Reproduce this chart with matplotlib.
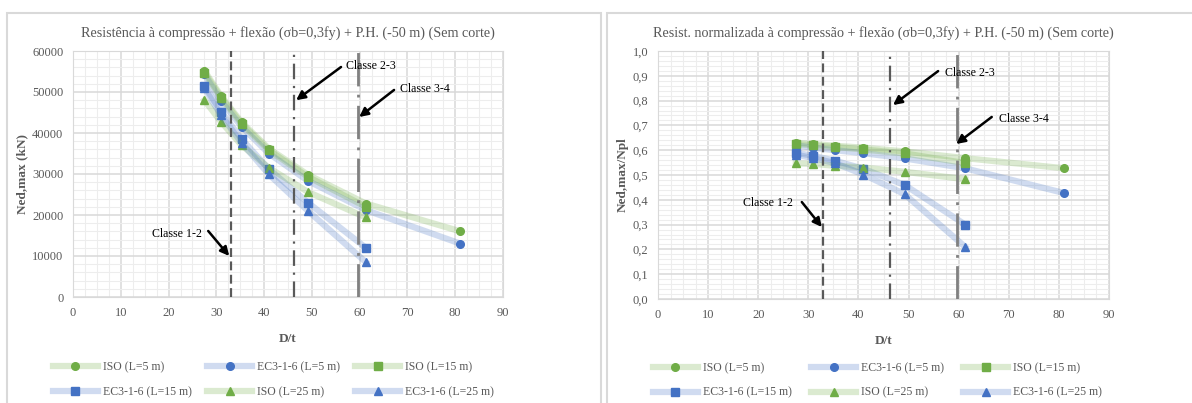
import matplotlib.pyplot as plt
from matplotlib.patches import Rectangle
from matplotlib.ticker import MultipleLocator, FuncFormatter

plt.rcParams['font.family'] = ['Liberation Serif', 'DejaVu Serif']

# D/t values
dt_long = [27.5, 31.0, 35.3, 41.0, 49.2, 61.3, 81.1]
dt_short = [27.5, 31.0, 35.3, 41.0, 49.2, 61.3]

# Ned,max (kN)
iso_5 = [55200, 49000, 42600, 36200, 29800, 22800, 16000]
ec3_5 = [54300, 47800, 41500, 35000, 28300, 21200, 13000]
iso_15 = [54700, 48600, 42200, 35800, 29300, 22000]
ec3_15 = [51500, 45200, 38500, 31200, 23000, 12000]
iso_25 = [48000, 42700, 37000, 31500, 25600, 19400]
ec3_25 = [51000, 44300, 37600, 29900, 21000, 8500]

# Ned,max / Npl
n_iso_5 = [0.630, 0.625, 0.618, 0.610, 0.595, 0.568, 0.527]
n_ec3_5 = [0.620, 0.610, 0.600, 0.588, 0.567, 0.527, 0.427]
n_iso_15 = [0.625, 0.620, 0.613, 0.603, 0.587, 0.548]
n_ec3_15 = [0.590, 0.577, 0.558, 0.525, 0.460, 0.300]
n_iso_25 = [0.547, 0.545, 0.537, 0.530, 0.513, 0.483]
n_ec3_25 = [0.582, 0.568, 0.548, 0.502, 0.423, 0.210]

labels = ['ISO (L=5 m)', 'EC3-1-6 (L=5 m)', 'ISO (L=15 m)',
          'EC3-1-6 (L=15 m)', 'ISO (L=25 m)', 'EC3-1-6 (L=25 m)']

class_lines = [33.0, 46.3, 59.7]

GREEN = '#70AD47'
BLUE = '#4472C4'
GREEN_L = (0.44, 0.68, 0.28, 0.25)
BLUE_L = (0.27, 0.45, 0.77, 0.25)
GREY = '#595959'

fig = plt.figure(figsize=(11.92, 4.03), dpi=100)

# panel frames
for x0, w in [(7, 594), (607, 590)]:
    fig.patches.append(Rectangle((x0 / 1192, -0.05), w / 1192, (403 - 13) / 403 + 0.05,
                                 transform=fig.transFigure, fill=False,
                                 edgecolor='#D9D9D9', lw=1.5))

ax1 = fig.add_axes([73 / 1192, 106 / 403, 430 / 1192, 246 / 403])
ax2 = fig.add_axes([658 / 1192, 104 / 403, 451 / 1192, 248 / 403])


def draw(ax, series, ymax, ymajor, yminor, leg_box):
    xs = [dt_long, dt_long, dt_short, dt_short, dt_short, dt_short]
    markers = ['o', 'o', 's', 's', '^', '^']
    handles = []
    for i, (x, y) in enumerate(zip(xs, series)):
        iso = i % 2 == 0
        h, = ax.plot(x, y, color=GREEN_L if iso else BLUE_L, lw=4.5,
                     marker=markers[i], ms=5.5, mfc=GREEN if iso else BLUE,
                     mec=GREEN if iso else BLUE, label=labels[i], zorder=3)
        handles.append(h)
    ax.axvline(class_lines[0], color=GREY, lw=1.6, ls=(0, (4, 2)), zorder=4)
    ax.axvline(class_lines[1], color=GREY, lw=1.6, ls=(0, (7, 3, 1, 3)), zorder=4)
    ax.axvline(class_lines[2], color='#808080', lw=2.0, ls=(0, (12, 3, 1, 3)), zorder=4)
    ax.set_xlim(0, 90)
    ax.set_ylim(0, ymax)
    ax.xaxis.set_major_locator(MultipleLocator(10))
    ax.xaxis.set_minor_locator(MultipleLocator(2.5))
    ax.yaxis.set_major_locator(MultipleLocator(ymajor))
    ax.yaxis.set_minor_locator(MultipleLocator(yminor))
    ax.grid(which='major', color='#D9D9D9', lw=1.1)
    ax.grid(which='minor', color='#EDEDED', lw=0.8)
    ax.set_axisbelow(True)
    for s in ax.spines.values():
        s.set_color('#D9D9D9')
    ax.tick_params(which='both', length=0, colors=GREY, labelsize=9, pad=7)
    ax.set_xlabel('D/t', color=GREY, fontsize=9.5, fontweight='bold', labelpad=10)
    order = [0, 3, 1, 4, 2, 5]
    ax.legend([handles[i] for i in order], [labels[i] for i in order],
              loc='upper left', bbox_to_anchor=leg_box, mode='expand', ncol=3,
              frameon=False, handlelength=3.8, fontsize=8.5, labelcolor=GREY,
              handletextpad=0.4, borderaxespad=0, borderpad=0, labelspacing=1.05)


def arrow(ax, text, tx, ty, x0, y0, x1, y1):
    ax.text(tx, ty, text, fontsize=8.6, color='black', ha='left', va='center', zorder=6)
    ax.annotate('', xy=(x1, y1), xytext=(x0, y0), zorder=6,
                arrowprops=dict(arrowstyle='-|>', color='black', lw=1.8,
                                mutation_scale=13, shrinkA=0, shrinkB=0))


draw(ax1, [iso_5, ec3_5, iso_15, ec3_15, iso_25, ec3_25], 60000, 10000, 2000,
     (-0.0465, -0.272, 1.025, 0.01))
ax1.set_ylabel('Ned,max (kN)', color=GREY, fontsize=9.5, fontweight='bold', labelpad=3)
ax1.set_title('Resistência à compressão + flexão (σb=0,3fy) + P.H. (-50 m) (Sem corte)',
              color=GREY, fontsize=10.2, pad=10)
arrow(ax1, 'Classe 1-2', 16.5, 15400, 28.3, 16100, 32.7, 10000)
arrow(ax1, 'Classe 2-3', 57.2, 56300, 56.1, 56100, 46.7, 48000)
arrow(ax1, 'Classe 3-4', 68.5, 50700, 67.2, 50500, 59.9, 43900)

draw(ax2, [n_iso_5, n_ec3_5, n_iso_15, n_ec3_15, n_iso_25, n_ec3_25], 1.0, 0.1, 0.02,
     (-0.011, -0.265, 0.995, 0.01))
ax2.yaxis.set_major_formatter(FuncFormatter(lambda v, p: f'{v:.1f}'.replace('.', ',')))
ax2.set_ylabel('Ned,max/Npl', color=GREY, fontsize=9.5, fontweight='bold', labelpad=3)
ax2.set_title('Resist. normalizada à compressão + flexão (σb=0,3fy) + P.H. (-50 m) (Sem corte)',
              color=GREY, fontsize=10.2, pad=10)
arrow(ax2, 'Classe 1-2', 17.0, 0.387, 28.7, 0.391, 32.7, 0.29)
arrow(ax2, 'Classe 2-3', 57.2, 0.912, 55.9, 0.919, 46.9, 0.782)
arrow(ax2, 'Classe 3-4', 68.0, 0.727, 66.6, 0.734, 59.5, 0.625)

fig.savefig('out.png', dpi=100)
